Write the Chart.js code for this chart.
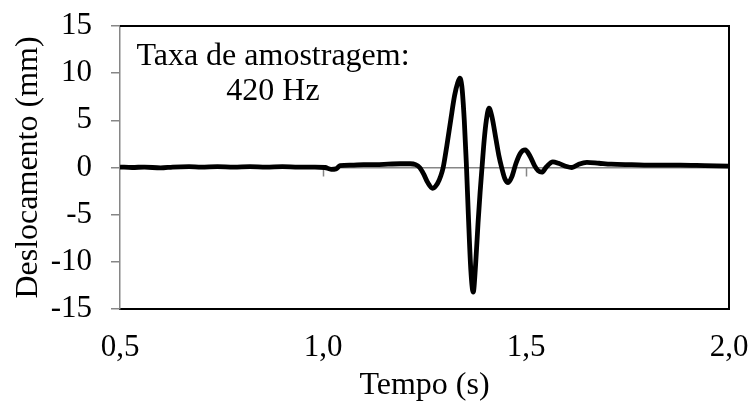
<!DOCTYPE html>
<html>
<head>
<meta charset="utf-8">
<script src="https://cdn.jsdelivr.net/npm/chart.js@4.4.1/dist/chart.umd.min.js"></script>
<style>
    html, body { margin: 0; padding: 0; background: #fff; }
    canvas { display: block; }
</style>
</head>
<body>
<canvas id="grafico" width="754" height="412"></canvas>
<script>
const tempo = [
    0.50, 0.53, 0.56, 0.60, 0.63, 0.67, 0.70, 0.74, 0.78, 0.82, 0.86, 0.90, 0.94, 0.98,
    1.005, 1.02, 1.032, 1.042, 1.07, 1.10, 1.13, 1.16, 1.19, 1.215, 1.228, 1.238,
    1.248, 1.258, 1.27, 1.282, 1.29, 1.296, 1.305, 1.3145, 1.324, 1.332, 1.337,
    1.342, 1.348, 1.353, 1.358, 1.364, 1.37, 1.376, 1.382, 1.387, 1.392, 1.397,
    1.402, 1.409, 1.416, 1.426, 1.433, 1.44, 1.448, 1.456, 1.465, 1.475, 1.486,
    1.498, 1.51, 1.521, 1.53, 1.539, 1.55, 1.566, 1.58, 1.60, 1.613, 1.63, 1.65,
    1.68, 1.71, 1.76, 1.82, 1.88, 1.94, 2.00
];
const deslocamento = [
    0.05, 0.0, 0.05, -0.05, 0.05, 0.1, 0.05, 0.1, 0.05, 0.1, 0.05, 0.1, 0.05, 0.05,
    0.0, -0.2, -0.15, 0.2, 0.25, 0.3, 0.3, 0.35, 0.4, 0.4, 0.3, 0.0,
    -0.7, -1.6, -2.2, -1.7, -0.9, 0.0, 2.3, 5.0, 7.6, 9.0, 9.46,
    8.6, 5.0, 0.5, -5.0, -10.8, -13.2, -10.2, -5.8, -2.6, 0.2, 2.9,
    4.9, 6.28, 5.4, 3.0, 1.3, 0.0, -1.2, -1.6, -1.0, 0.4, 1.5,
    1.86, 1.2, 0.2, -0.35, -0.5, 0.05, 0.6, 0.45, 0.1, 0.0, 0.35, 0.55,
    0.45, 0.35, 0.3, 0.25, 0.25, 0.2, 0.15
];

const xTicks = [0.5, 1.0, 1.5, 2.0];
const yTicks = [-15, -10, -5, 0, 5, 10, 15];
const legendaTexto = ["Taxa de amostragem:", "420 Hz"];

const fonte = '"Liberation Serif", "Times New Roman", serif';
const cinza = '#868686';

// moldura preta, marcas do eixo horizontal em y = 0 e caixa de texto
const extras = {
    id: 'extras',
    beforeDatasetsDraw(chart) {
        const { ctx, chartArea: a, scales } = chart;
        const y0 = scales.y.getPixelForValue(0);
        ctx.save();
        ctx.strokeStyle = '#000';
        ctx.lineWidth = 2;
        ctx.beginPath();
        ctx.moveTo(a.left, a.top);
        ctx.lineTo(a.right, a.top);
        ctx.lineTo(a.right, a.bottom);
        ctx.stroke();

        ctx.strokeStyle = cinza;
        ctx.lineWidth = 1.5;
        ctx.beginPath();
        xTicks.slice(1, -1).forEach(v => {
            const px = Math.round(scales.x.getPixelForValue(v)) + 0.5;
            ctx.moveTo(px, y0);
            ctx.lineTo(px, y0 + 9);
        });
        ctx.stroke();

        ctx.fillStyle = '#000';
        ctx.font = '32px ' + fonte;
        ctx.textAlign = 'center';
        ctx.textBaseline = 'alphabetic';
        ctx.fillText(legendaTexto[0], 273, 65);
        ctx.fillText(legendaTexto[1], 273, 100);
        ctx.restore();
    }
};

new Chart(document.getElementById('grafico'), {
    type: 'line',
    data: {
        datasets: [{
            data: tempo.map((t, i) => ({ x: t, y: deslocamento[i] })),
            borderColor: '#000',
            borderWidth: 4.8,
            pointRadius: 0,
            cubicInterpolationMode: 'monotone',
            fill: false
        }]
    },
    options: {
        responsive: false,
        animation: false,
        events: [],
        layout: { padding: { top: 26, right: 25, left: 0, bottom: 0 } },
        plugins: {
            legend: { display: false },
            tooltip: { enabled: false }
        },
        scales: {
            x: {
                type: 'linear',
                min: 0.5,
                max: 2.0,
                afterFit: s => {
                    s.height = 103;
                    s.paddingLeft = 0;
                    s.paddingRight = 0;
                },
                afterBuildTicks: s => { s.ticks = xTicks.map(v => ({ value: v })); },
                ticks: {
                    padding: 20,
                    color: '#000',
                    font: { family: fonte, size: 31 },
                    maxRotation: 0,
                    callback: v => v.toFixed(1).replace('.', ',')
                },
                grid: { display: false, drawTicks: false },
                border: { display: true, color: '#000', width: 2 },
                title: {
                    display: true,
                    text: 'Tempo (s)',
                    color: '#000',
                    font: { family: fonte, size: 32 },
                    padding: { top: 0, bottom: 7 }
                }
            },
            y: {
                min: -15,
                max: 15,
                afterFit: s => {
                    s.width = 120;
                    s.paddingTop = 0;
                    s.paddingBottom = 0;
                },
                afterBuildTicks: s => { s.ticks = yTicks.map(v => ({ value: v })); },
                ticks: {
                    padding: 19,
                    color: '#000',
                    font: { family: fonte, size: 31 },
                    callback: v => String(v)
                },
                grid: {
                    drawOnChartArea: true,
                    drawTicks: true,
                    tickLength: 9,
                    lineWidth: 1.5,
                    color: c => (c.tick && c.tick.value === 0 ? cinza : 'rgba(0,0,0,0)'),
                    tickColor: cinza
                },
                border: { display: true, color: cinza, width: 1.5 },
                title: {
                    display: true,
                    text: 'Deslocamento (mm)',
                    color: '#000',
                    font: { family: fonte, size: 32 },
                    padding: { top: 9, bottom: 0 }
                }
            }
        }
    },
    plugins: [extras]
});
</script>
</body>
</html>
